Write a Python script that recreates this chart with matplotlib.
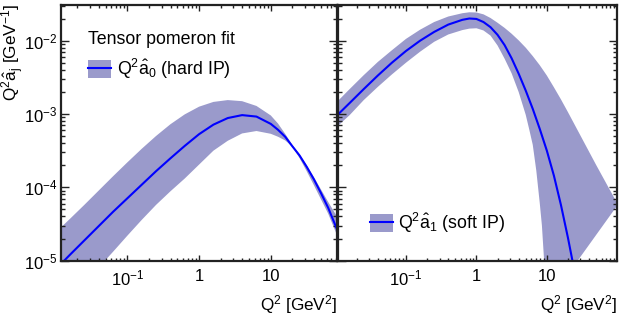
import matplotlib
matplotlib.use("Agg")
import matplotlib.pyplot as plt
import numpy as np
from matplotlib.patches import Patch
from matplotlib.lines import Line2D
from matplotlib.ticker import LogLocator, FixedLocator, NullFormatter

plt.rcParams['font.family'] = ['Liberation Sans', 'DejaVu Sans']
plt.rcParams['mathtext.fontset'] = 'custom'
plt.rcParams['mathtext.rm'] = 'Liberation Sans'
plt.rcParams['mathtext.it'] = 'Liberation Sans:italic'
plt.rcParams['mathtext.default'] = 'regular'

# values, as log10(Q^2) and log10(Q^2 a_j)
# hard pomeron (a0), left panel
hard_lq2 = [-1.95, -1.8, -1.6, -1.4, -1.2, -1.0, -0.8, -0.6, -0.4, -0.2, 0.0, 0.2, 0.4,
            0.6, 0.8, 1.0, 1.1, 1.2, 1.3, 1.4, 1.5, 1.6, 1.7, 1.8, 1.93]
hard_mid = [-5.07, -4.92, -4.725, -4.53, -4.335, -4.15, -3.965, -3.78, -3.605, -3.435, -3.275, -3.145, -3.055,
            -3.015, -3.035, -3.135, -3.215, -3.31, -3.44, -3.565, -3.72, -3.89, -4.08, -4.28, -4.59]
hard_up_lq2 = [-1.95, -1.8, -1.6, -1.4, -1.2, -1.0, -0.8, -0.6, -0.4, -0.2, 0.0, 0.2, 0.4,
               0.6, 0.8, 1.0, 1.1, 1.2, 1.3, 1.4, 1.5, 1.6, 1.7, 1.8, 1.93]
hard_up = [-4.57, -4.43, -4.24, -4.045, -3.85, -3.66, -3.475, -3.30, -3.14, -3.005, -2.90, -2.835, -2.81,
           -2.825, -2.89, -3.02, -3.13, -3.27, -3.42, -3.55, -3.70, -3.86, -4.03, -4.20, -4.41]
hard_lo_lq2 = [-1.95, -1.6, -1.4, -1.2, -1.0, -0.8, -0.6, -0.4, -0.2, 0.0, 0.2, 0.4,
               0.6, 0.8, 1.0, 1.1, 1.2, 1.3, 1.4, 1.5, 1.6, 1.7, 1.8, 1.93]
hard_lo = [-5.68, -5.31, -5.095, -4.88, -4.66, -4.445, -4.24, -4.055, -3.88, -3.69, -3.50, -3.365,
           -3.265, -3.232, -3.27, -3.31, -3.36, -3.445, -3.60, -3.78, -3.97, -4.165, -4.36, -4.67]

# soft pomeron (a1), right panel
soft_lq2 = [-1.97, -1.8, -1.6, -1.4, -1.2, -1.0, -0.8, -0.6, -0.4, -0.2, -0.1, 0.0, 0.1, 0.2, 0.3,
            0.4, 0.5, 0.6, 0.7, 0.8, 0.9, 1.0, 1.1, 1.2, 1.3, 1.4, 1.45]
soft_mid = [-3.01, -2.85, -2.66, -2.475, -2.30, -2.14, -2.00, -1.88, -1.78, -1.715, -1.697, -1.703, -1.745,
            -1.815, -1.92, -2.06, -2.24, -2.45, -2.68, -2.93, -3.205, -3.50, -3.84, -4.24, -4.69, -5.18, -5.45]
soft_up_lq2 = [-1.97, -1.8, -1.6, -1.4, -1.2, -1.0, -0.8, -0.6, -0.4, -0.2, -0.1, 0.0, 0.1, 0.2, 0.3,
               0.4, 0.5, 0.6, 0.7, 0.8, 0.9, 1.0, 1.1, 1.2, 1.3, 1.4, 1.5, 1.6, 1.7, 1.8, 1.9, 2.01]
soft_up = [-2.825, -2.66, -2.47, -2.29, -2.13, -1.975, -1.85, -1.745, -1.67, -1.625, -1.612, -1.615, -1.64,
           -1.69, -1.755, -1.825, -1.905, -1.995, -2.095, -2.21, -2.335, -2.475, -2.635, -2.80, -2.975,
           -3.155, -3.335, -3.515, -3.695, -3.87, -4.045, -4.235]
soft_lo_lq2 = [-1.97, -1.8, -1.6, -1.4, -1.2, -1.0, -0.8, -0.6, -0.4, -0.2, -0.1, 0.0, 0.1, 0.2, 0.3,
               0.4, 0.5, 0.6, 0.7, 0.75, 0.8, 0.85, 0.9, 0.93, 0.96, 0.99]
soft_lo = [-3.165, -3.015, -2.81, -2.63, -2.46, -2.30, -2.15, -2.015, -1.915, -1.855, -1.835, -1.83, -1.86,
           -1.93, -2.065, -2.245, -2.445, -2.70, -3.01, -3.21, -3.42, -3.77, -4.22, -4.52, -4.98, -5.6]

xticks = [0.1, 1, 10]
xticklabels = ['$10^{-1}$', '1', '10']
yticks = [1e-5, 1e-4, 1e-3, 1e-2]
yticklabels = ['$10^{-5}$', '$10^{-4}$', '$10^{-3}$', '$10^{-2}$']

band_color = '#9a9acb'
line_color = '#0000ff'
fs_tick = 12
fs_title = 12.3
fs_leg = 12.8


def band(ax, lq2_mid, mid, lq2_up, up, lq2_lo, lo):
    # one closed polygon: upper edge left->right, lower edge right->left
    xs = np.concatenate([10.0 ** np.array(lq2_up), 10.0 ** np.array(lq2_lo)[::-1]])
    ys = np.concatenate([10.0 ** np.array(up), 10.0 ** np.array(lo)[::-1]])
    ax.fill(xs, ys, color=band_color, lw=0)
    ax.plot(10.0 ** np.array(lq2_mid), 10.0 ** np.array(mid), color=line_color, lw=1.5)


def style(ax, xlim):
    ax.set_xscale('log')
    ax.set_yscale('log')
    ax.set_xlim(*xlim)
    ax.set_ylim(1e-5, 0.0307)
    ax.xaxis.set_major_locator(FixedLocator(xticks))
    ax.set_xticklabels(xticklabels)
    ax.xaxis.set_minor_locator(LogLocator(base=10, subs=np.arange(2, 10), numticks=20))
    ax.xaxis.set_minor_formatter(NullFormatter())
    ax.yaxis.set_major_locator(FixedLocator(yticks))
    ax.yaxis.set_minor_locator(LogLocator(base=10, subs=np.arange(2, 10), numticks=20))
    ax.yaxis.set_minor_formatter(NullFormatter())
    ax.tick_params(which='both', direction='in', top=True, right=True, labelsize=fs_tick, color='#222222')
    ax.tick_params(axis='x', which='major', length=4.5, width=1.0, pad=6)
    ax.tick_params(axis='x', which='minor', length=2.3, width=1.0)
    ax.tick_params(axis='y', which='major', length=5.8, width=1.0, pad=3)
    ax.tick_params(axis='y', which='minor', length=2.9, width=1.0)
    for s in ax.spines.values():
        s.set_linewidth(1.6)
        s.set_color('#222222')
    ax.set_xlabel('Q$^{2}$ [GeV$^{2}$]', fontsize=fs_title, loc='right', labelpad=3)


fig = plt.figure(figsize=(6.23, 3.17), dpi=100)
ax1 = fig.add_axes([0.0984, 0.1779, 0.4433, 0.8063])
ax2 = fig.add_axes([0.5433, 0.1779, 0.4475, 0.8063])

band(ax1, hard_lq2, hard_mid, hard_up_lq2, hard_up, hard_lo_lq2, hard_lo)
band(ax2, soft_lq2, soft_mid, soft_up_lq2, soft_up, soft_lo_lq2, soft_lo)

style(ax1, (0.012, 85))
style(ax2, (0.011, 100))
ax1.set_yticklabels(yticklabels)
ax2.set_yticklabels([])
fig.text(12.5 / 623, 1 - 4 / 317, r'Q$^{2}\hat{a}_{j}$ [GeV$^{-1}$]', fontsize=fs_title,
         rotation=90, ha='center', va='top')

h1 = (Patch(facecolor=band_color, edgecolor='none'), Line2D([], [], color=line_color, lw=1.5))
ax1.legend([h1], [r'Q$^{2}\hat{a}_{0}$ (hard IP)'], title='Tensor pomeron fit',
           loc='upper left', bbox_to_anchor=(0.097, 0.898), frameon=False, fontsize=fs_leg,
           title_fontsize=fs_leg, alignment='left', borderpad=0, borderaxespad=0,
           handlelength=1.3, handleheight=1.15, handletextpad=0.3)

ax2.legend([h1], [r'Q$^{2}\hat{a}_{1}$ (soft IP)'], loc='upper left', bbox_to_anchor=(0.113, 0.194),
           frameon=False, fontsize=fs_leg, borderpad=0, borderaxespad=0,
           handlelength=1.3, handleheight=1.15, handletextpad=0.3)

fig.savefig('out.png', dpi=100)
